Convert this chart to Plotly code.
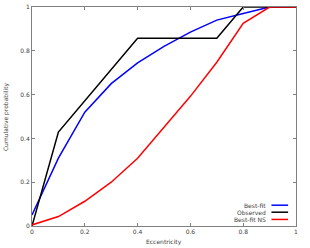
import plotly.graph_objects as go

ecc = [0.0, 0.1, 0.2, 0.3, 0.4, 0.5, 0.6, 0.7, 0.8, 0.9, 1.0]
best_fit = [0.05, 0.31, 0.52, 0.65, 0.745, 0.82, 0.885, 0.94, 0.97, 1.0, 1.0]
obs_x = [0.0, 0.1, 0.4, 0.7, 0.8, 1.0]
observed = [0.0, 0.4286, 0.857, 0.857, 1.0, 1.0]
best_fit_ns = [0.005, 0.043, 0.113, 0.2, 0.309, 0.45, 0.592, 0.748, 0.925, 1.0, 1.0]
tick_vals = [0, 0.2, 0.4, 0.6, 0.8, 1]
tick_text = ["0", "0.2", "0.4", "0.6", "0.8", "1"]

names = ["Best-fit", "Observed", "Best-fit NS"]
colors = ["#0000ff", "#000000", "#ff0000"]

fig = go.Figure()
fig.add_trace(go.Scatter(x=ecc, y=best_fit, mode="lines", line=dict(color=colors[0], width=1.5), name=names[0]))
fig.add_trace(go.Scatter(x=obs_x, y=observed, mode="lines", line=dict(color=colors[1], width=1.5), name=names[1]))
fig.add_trace(go.Scatter(x=ecc, y=best_fit_ns, mode="lines", line=dict(color=colors[2], width=1.5), name=names[2]))

font = dict(family="DejaVu Sans", size=6, color="#404040")
axis_common = dict(
    showgrid=False, zeroline=False, showline=True, linecolor="#808080", linewidth=1,
    mirror="allticks", ticks="inside", ticklen=3, tickcolor="#808080",
    tickfont=font, range=[0, 1], tickmode="array", tickvals=tick_vals, ticktext=tick_text,
    automargin=False,
)
fig.update_xaxes(**axis_common)
fig.update_yaxes(**axis_common)

fig.add_annotation(x=0.5, y=-0.074, xref="paper", yref="paper", text="Eccentricity", showarrow=False,
                   xanchor="center", yanchor="middle", font=font)
fig.add_annotation(x=-0.1, y=0.5, xref="paper", yref="paper", text="Cumulative probability", showarrow=False,
                   xanchor="center", yanchor="middle", textangle=-90, font=font)

# manual legend (text right-aligned, line sample on the right)
leg_y = [0.095, 0.063, 0.03]
for n, c, yy in zip(names, colors, leg_y):
    fig.add_annotation(x=0.895, y=yy, xref="paper", yref="paper", text=n, showarrow=False,
                       xanchor="right", yanchor="middle", font=font)
    fig.add_shape(type="line", xref="paper", yref="paper", x0=0.907, x1=0.97, y0=yy, y1=yy,
                  line=dict(color=c, width=1.5))

fig.update_layout(
    width=310, height=248, showlegend=False,
    margin=dict(l=32, r=14, t=7, b=22),
    plot_bgcolor="white", paper_bgcolor="white",
)
fig.write_html("out.html", config={"displayModeBar": False},
               post_script="document.body.style.margin='0px';document.body.style.overflow='hidden';")
